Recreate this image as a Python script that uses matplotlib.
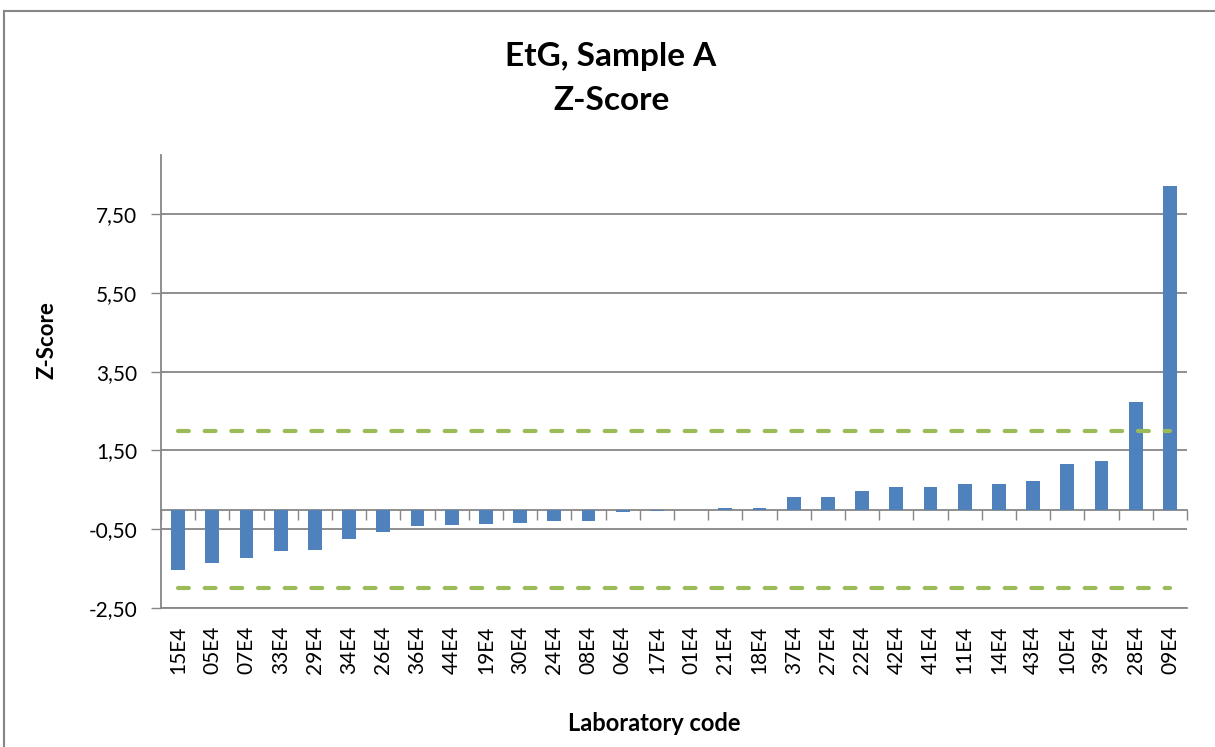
import matplotlib
matplotlib.use("Agg")
import matplotlib.pyplot as plt
import numpy as np
from matplotlib.lines import Line2D

# Z-scores per laboratory
labs = ["15E4", "05E4", "07E4", "33E4", "29E4", "34E4", "26E4", "36E4", "44E4", "19E4",
        "30E4", "24E4", "08E4", "06E4", "17E4", "01E4", "21E4", "18E4", "37E4", "27E4",
        "22E4", "42E4", "41E4", "11E4", "14E4", "43E4", "10E4", "39E4", "28E4", "09E4"]
zscore = [-1.54, -1.35, -1.24, -1.05, -1.02, -0.75, -0.56, -0.42, -0.39, -0.36,
          -0.33, -0.30, -0.30, -0.07, -0.03, 0.0, 0.04, 0.04, 0.31, 0.31,
          0.47, 0.57, 0.57, 0.64, 0.64, 0.73, 1.15, 1.22, 2.72, 8.22]
upper_limit = 2.0
lower_limit = -2.0

y_ticks = [-2.5, -0.5, 1.5, 3.5, 5.5, 7.5]
y_labels = ["-2,50", "-0,50", "1,50", "3,50", "5,50", "7,50"]

plt.rcParams['font.family'] = ['Lato', 'DejaVu Sans']
grey = "#868686"

W, H = 1215, 747
fig = plt.figure(figsize=(W / 100, H / 100), dpi=100)
ax = fig.add_axes([161 / W, 1 - 608 / H, (1187 - 161) / W, (608 - 155) / H])

x = np.arange(len(labs))
ax.bar(x, zscore, width=0.4, color="#4F81BD", zorder=3)
for lim in (upper_limit, lower_limit):
    ax.plot(x, [lim] * len(labs), color="#9BBB59", lw=3, dashes=(2.6, 3.8),
            dash_capstyle="round", zorder=4)

ax.set_xlim(-0.5, len(labs) - 0.5)
ax.set_ylim(-2.5, 9)
ax.set_yticks(y_ticks)
ax.set_yticklabels(y_labels)
ax.grid(axis="y", color=grey, lw=1.3, zorder=0)
ax.tick_params(axis="y", direction="out", length=7.2, width=1, color=grey, pad=10, labelsize=15)

ax.set_xticks(x)
ax.set_xticklabels(labs, rotation=90, va="top", ha="center")
ax.tick_params(axis="x", length=0, pad=13, labelsize=15)

for s in ["top", "right"]:
    ax.spines[s].set_visible(False)
for s in ["left", "bottom"]:
    ax.spines[s].set_color(grey)
    ax.spines[s].set_linewidth(1.3)

# category axis crossing at zero, ticks between categories
zero = ax.secondary_xaxis((0 - (-2.5)) / 11.5)
zero.set_xticks(np.arange(-0.5, len(labs), 1))
zero.set_xticklabels([])
zero.tick_params(direction="out", length=7.2, width=1, color=grey)
zero.spines["bottom"].set_color(grey)
zero.spines["bottom"].set_linewidth(1.3)
zero.spines["bottom"].set_zorder(5)

fig.text(611 / W, 1 - 66 / H, "EtG, Sample A", ha="center", va="baseline",
         fontsize=24, fontweight="bold")
fig.text(611 / W, 1 - 110 / H, "Z-Score", ha="center", va="baseline",
         fontsize=24, fontweight="bold")
fig.text(47 / W, 1 - 340 / H, "Z-Score", rotation=90, ha="center", va="center",
         fontsize=16, fontweight="bold")
fig.text(654 / W, 1 - 731 / H, "Laboratory code", ha="center", va="baseline",
         fontsize=17, fontweight="bold")

# chart border (top and left edges visible)
fig.add_artist(Line2D([3.5 / W, 1], [1 - 10.5 / H, 1 - 10.5 / H], color=grey, lw=1.5))
fig.add_artist(Line2D([3.5 / W, 3.5 / W], [0, 1 - 10.5 / H], color=grey, lw=1.5))

fig.savefig("out.png", dpi=100)
